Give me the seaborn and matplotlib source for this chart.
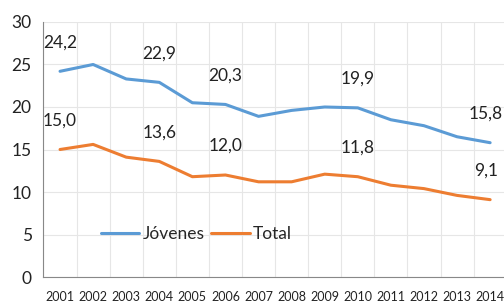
import pandas as pd
import numpy as np
import matplotlib.pyplot as plt
import seaborn as sns

years = ["2001", "2002", "2003", "2004", "2005", "2006", "2007",
         "2008", "2009", "2010", "2011", "2012", "2013", "2014"]
jovenes = [24.2, 25.0, 23.3, 22.9, 20.5, 20.3, 18.9, 19.6, 20.0, 19.9, 18.5, 17.8, 16.5, 15.8]
total = [15.0, 15.6, 14.1, 13.6, 11.8, 12.0, 11.2, 11.2, 12.1, 11.8, 10.8, 10.4, 9.6, 9.1]
labelled_years = ["2001", "2004", "2006", "2010", "2014"]

series_names = ["Jóvenes", "Total"]
colors = ["#5B9BD5", "#ED7D31"]

df = pd.DataFrame({
    "year": years * 2,
    "value": jovenes + total,
    "serie": [series_names[0]] * len(years) + [series_names[1]] * len(years),
})

sns.set_style("white")
plt.rcParams["font.family"] = ["Lato", "DejaVu Sans"]

fig = plt.figure(figsize=(5.04, 3.08), dpi=100)
ax = fig.add_axes([0.0863, 0.1006, 0.919, 0.828])

sns.lineplot(data=df, x="year", y="value", hue="serie", palette=colors,
             linewidth=2.2, ax=ax, sort=False)

# data labels above selected points (last one nudged in so it stays on the canvas)
for vals in [jovenes, total]:
    for yr in labelled_years:
        i = years.index(yr)
        dx = -3 if yr == years[-1] else 0
        ax.annotate(f"{vals[i]:.1f}".replace(".", ","), (i, vals[i]),
                    xytext=(dx, 21), textcoords="offset points",
                    ha="center", va="center", fontsize=12.5, color="#222222")

ax.set_xlim(-0.5, len(years) - 0.5)
ax.set_ylim(0, 30)
ax.set_yticks(range(0, 31, 5))
ax.set_xticks(range(len(years)))
ax.set_xticklabels(years)
ax.set_xticks(np.arange(-0.5, len(years), 1), minor=True)
ax.tick_params(axis="x", which="major", length=0, labelsize=9, pad=10, colors="#222222")
ax.tick_params(axis="x", which="minor", length=5, color="#888888", direction="out")
ax.tick_params(axis="y", length=5, labelsize=12.5, colors="#222222")
ax.tick_params(axis="y", which="major", color="#888888")
ax.grid(True, axis="y", color="#e6e6e6", linewidth=0.8)
ax.grid(True, axis="x", which="minor", color="#e6e6e6", linewidth=0.8)
ax.set_xlabel("")
ax.set_ylabel("")
for side in ["top", "right"]:
    ax.spines[side].set_visible(False)
for side in ["left", "bottom"]:
    ax.spines[side].set_color("#888888")
    ax.spines[side].set_linewidth(0.8)

ax.legend(title=None, frameon=False, ncol=2, fontsize=12.5, loc="center",
          bbox_to_anchor=(0.33, 0.17), handlelength=2.2, handletextpad=0.2,
          columnspacing=0.4)

fig.savefig("out.png", dpi=100)
